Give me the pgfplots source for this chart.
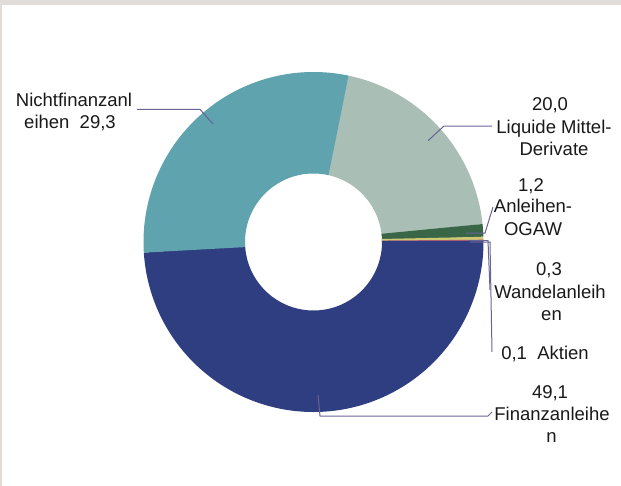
\documentclass[border=0pt]{standalone}
\usepackage{pgfplots}
\pgfplotsset{compat=1.18}
\usepackage{fontspec}
\setmainfont{Liberation Sans}
\definecolor{cFin}{RGB}{47,62,128}
\definecolor{cNicht}{RGB}{95,163,174}
\definecolor{cLiq}{RGB}{169,190,181}
\definecolor{cOGAW}{RGB}{58,102,72}
\definecolor{cWandel}{RGB}{205,200,115}
\definecolor{cAkt}{RGB}{185,95,115}
\definecolor{cLead}{RGB}{105,100,150}
\definecolor{cBorder}{RGB}{226,220,216}
\definecolor{cText}{RGB}{25,25,25}
% data (percent)
\def\vLiq{20.0}
\def\vOGAW{1.2}
\def\vWandel{0.3}
\def\vAkt{0.1}
\def\vFin{49.1}
\def\vNicht{29.3}
\def\aStart{78.3}
\pgfmathsetmacro\aA{\aStart}
\pgfmathsetmacro\aB{\aA-3.6*\vLiq}
\pgfmathsetmacro\aC{\aB-3.6*\vOGAW}
\pgfmathsetmacro\aD{\aC-3.6*\vWandel}
\pgfmathsetmacro\aE{\aD-3.6*\vAkt}
\pgfmathsetmacro\aF{\aE-3.6*\vFin}
\pgfmathsetmacro\aG{\aF-3.6*\vNicht}
% slightly extended ends (overlap into next slice, to avoid seams)
\pgfmathsetmacro\aBx{\aB-0.4}
\pgfmathsetmacro\aCx{\aC-0.4}
\pgfmathsetmacro\aDx{\aD-0.4}
\pgfmathsetmacro\aEx{\aE-0.4}
\pgfmathsetmacro\aFx{\aF-0.4}
\pgfmathsetmacro\aGx{\aG-0.4}
\def\cx{313.5}
\def\cy{242}
\def\rm{119.25}
% #1 start angle, #2 end angle, #3 colour, #4 samples
\newcommand\ring[4]{%
  \addplot[draw=#3, line width=101.5bp, line cap=butt, line join=miter, domain=#2:#1, samples=#4, variable=\t, no markers]
    ({\cx+\rm*cos(\t)},{\cy-\rm*sin(\t)});
}
\tikzset{lab/.style={font=\fontsize{18.5bp}{22bp}\selectfont, text=cText, anchor=base, inner sep=0pt}}
\begin{document}
\begin{tikzpicture}
\begin{axis}[
  width=621bp, height=486bp, scale only axis,
  xmin=0, xmax=621, ymin=0, ymax=486, y dir=reverse,
  hide axis, clip=false,
]
\fill[white] (axis cs:0,0) rectangle (axis cs:621,486);
\fill[cBorder] (axis cs:0,0) rectangle (axis cs:621,5);
\fill[cBorder] (axis cs:0,0) rectangle (axis cs:2,486);
\ring{\aA}{\aBx}{cLiq}{60}
\ring{\aB}{\aCx}{cOGAW}{4}
\ring{\aC}{\aDx}{cWandel}{2}
\ring{\aD}{\aEx}{cAkt}{2}
\ring{\aE}{\aFx}{cFin}{140}
\ring{\aF}{\aGx}{cNicht}{80}
% leader lines
\addplot[cLead, line width=1bp, no markers] coordinates {(137,109.3) (200,109.3) (213,124)};
\addplot[cLead, line width=1bp, no markers] coordinates {(428,140.7) (444,126) (492,126)};
\addplot[cLead, line width=1bp, no markers] coordinates {(466,233) (485,233) (493,207)};
\addplot[cLead, line width=1bp, no markers] coordinates {(468,240.7) (488,240.7) (490,290)};
\addplot[cLead, line width=1bp, no markers] coordinates {(470,242) (490,242) (492,352)};
\addplot[cLead, line width=1bp, no markers] coordinates {(318,395) (320,416) (488,416) (492,412)};
% labels
\node[lab] at (axis cs:74,106) {Nichtfinanzanl};
\node[lab] at (axis cs:70,128) {eihen\ \ 29,3};
\node[lab] at (axis cs:550,110.7) {20,0};
\node[lab] at (axis cs:554,133.3) {Liquide Mittel-};
\node[lab] at (axis cs:554,155) {Derivate};
\node[lab] at (axis cs:531,191) {1,2};
\node[lab] at (axis cs:533,212.7) {Anleihen-};
\node[lab] at (axis cs:533,235) {OGAW};
\node[lab] at (axis cs:549,275) {0,3};
\node[lab] at (axis cs:550,298.3) {Wandelanleih};
\node[lab] at (axis cs:551.5,320) {en};
\node[lab] at (axis cs:545,359.3) {0,1\ \ Aktien};
\node[lab] at (axis cs:550,398.3) {49,1};
\node[lab] at (axis cs:552,420.7) {Finanzanleihe};
\node[lab] at (axis cs:551.5,442.7) {n};
\end{axis}
\end{tikzpicture}
\end{document}
